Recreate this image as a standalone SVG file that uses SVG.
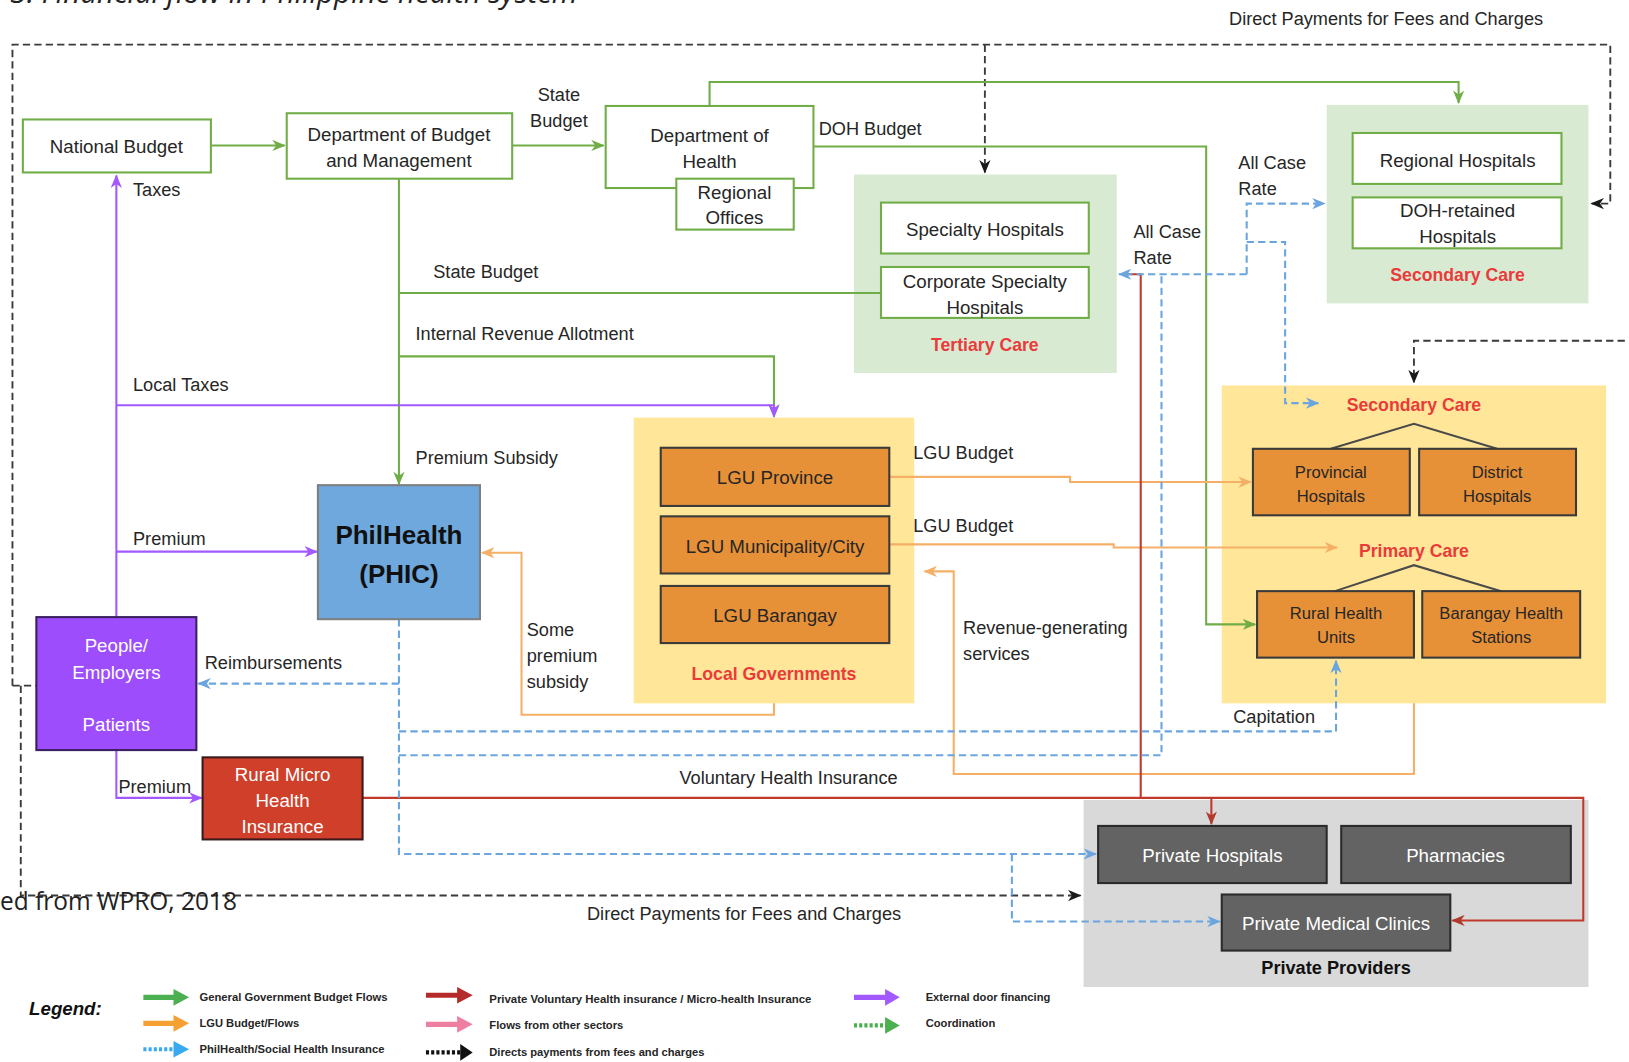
<svg xmlns="http://www.w3.org/2000/svg" width="1629" height="1062" viewBox="0 0 1629 1062">
<style>
text{font-family:"Liberation Sans",Arial,sans-serif;fill:#262626}
.t{font-size:17.5px}
.n{font-size:18px;text-anchor:middle}
.w{fill:#ffffff}
.sm{font-size:16px;text-anchor:middle}
.red{fill:#ea3b3b;font-weight:bold;font-size:17px;text-anchor:middle}
.lg{font-size:10.5px;font-weight:bold}
.gbox{fill:#ffffff;stroke:#70ad47;stroke-width:2}
.obox{fill:#e69138;stroke:#3a3a3a;stroke-width:2}
.dbox{fill:#636363;stroke:#2a2a2a;stroke-width:2}
.g{fill:none;stroke:#70ad47;stroke-width:2}
.p{fill:none;stroke:#a259ff;stroke-width:2}
.o{fill:none;stroke:#f4b066;stroke-width:2}
.b{fill:none;stroke:#6aa5e0;stroke-width:2;stroke-dasharray:7 4}
.r{fill:none;stroke:#c0392b;stroke-width:2}
.k{fill:none;stroke:#3a3a3a;stroke-width:1.8;stroke-dasharray:7 4}
</style>
<defs>
<marker id="ag" viewBox="0 0 12 10" markerWidth="13" markerHeight="11" refX="11" refY="5" orient="auto" markerUnits="userSpaceOnUse"><path d="M0,0 L12,5 L0,10 L3.5,5 z" fill="#70ad47"/></marker>
<marker id="ap" viewBox="0 0 12 10" markerWidth="13" markerHeight="11" refX="11" refY="5" orient="auto" markerUnits="userSpaceOnUse"><path d="M0,0 L12,5 L0,10 L3.5,5 z" fill="#a259ff"/></marker>
<marker id="ao" viewBox="0 0 12 10" markerWidth="13" markerHeight="11" refX="11" refY="5" orient="auto" markerUnits="userSpaceOnUse"><path d="M0,0 L12,5 L0,10 L3.5,5 z" fill="#f4b066"/></marker>
<marker id="ab" viewBox="0 0 12 10" markerWidth="13" markerHeight="11" refX="11" refY="5" orient="auto" markerUnits="userSpaceOnUse"><path d="M0,0 L12,5 L0,10 L3.5,5 z" fill="#6aa5e0"/></marker>
<marker id="ar" viewBox="0 0 12 10" markerWidth="13" markerHeight="11" refX="11" refY="5" orient="auto" markerUnits="userSpaceOnUse"><path d="M0,0 L12,5 L0,10 L3.5,5 z" fill="#b03a2e"/></marker>
<marker id="ak" viewBox="0 0 12 10" markerWidth="13" markerHeight="11" refX="11" refY="5" orient="auto" markerUnits="userSpaceOnUse"><path d="M0,0 L12,5 L0,10 L3.5,5 z" fill="#1a1a1a"/></marker>
</defs>
<rect width="1629" height="1062" fill="#ffffff"/>
<g transform="scale(1.0389)">
<text x="10" y="3" textLength="546" lengthAdjust="spacingAndGlyphs" style="font-family:'Open Sans',sans-serif;font-style:italic;font-size:28px;fill:#222">3. Financial flow in Philippine health system</text>

<!-- containers -->
<g id="tertiary-care">
<rect x="822" y="168" width="253" height="191" fill="#d9ead3"/>
<text class="red" x="948" y="338">Tertiary Care</text>
</g>
<g id="secondary-care-doh">
<rect x="1277" y="101" width="252" height="191" fill="#d9ead3"/>
<text class="red" x="1403" y="270">Secondary Care</text>
</g>
<g id="local-governments">
<rect x="610" y="402" width="270" height="275" fill="#ffe699"/>
<text class="red" x="745" y="655">Local Governments</text>
</g>
<g id="lgu-care">
<rect x="1176" y="371" width="370" height="306" fill="#ffe699"/>
<text class="red" x="1361" y="396">Secondary Care</text>
<text class="red" x="1361" y="536">Primary Care</text>
<polyline points="1281,432 1361,408 1441,432" fill="none" stroke="#4a4a4a" stroke-width="2"/>
<polyline points="1285,569 1361,544 1445,569" fill="none" stroke="#4a4a4a" stroke-width="2"/>
</g>
<g id="private-providers">
<rect x="1043" y="770" width="486" height="180" fill="#d9d9d9"/>
<text x="1286" y="938" style="font-size:17.5px;font-weight:bold;text-anchor:middle;fill:#111">Private Providers</text>
</g>

<!-- connectors -->
<g id="connectors">
<polyline class="k" points="12,660 12,43 1550,43 1550,196 1532,196" marker-end="url(#ak)"/>
<polyline class="k" points="948,43 948,166" marker-end="url(#ak)"/>
<polyline class="k" points="1575,328 1361,328 1361,368" marker-end="url(#ak)"/>
<polyline class="k" points="12,660 35,660"/>
<polyline class="k" points="20,660 20,862 1040,862" marker-end="url(#ak)"/>
<line class="g" x1="203" y1="140" x2="274" y2="140" marker-end="url(#ag)"/>
<line class="g" x1="493" y1="140" x2="581" y2="140" marker-end="url(#ag)"/>
<polyline class="g" points="683,102 683,79 1404,79 1404,99" marker-end="url(#ag)"/>
<polyline class="g" points="783,141 1161,141 1161,601 1208,601" marker-end="url(#ag)"/>
<line class="g" x1="384" y1="172" x2="384" y2="466" marker-end="url(#ag)"/>
<line class="g" x1="384" y1="282" x2="848" y2="282"/>
<polyline class="g" points="384,343 745,343 745,401" marker-end="url(#ag)"/>
<line class="p" x1="112" y1="594" x2="112" y2="169" marker-end="url(#ap)"/>
<polyline class="p" points="112,390 745,390 745,401" marker-end="url(#ap)"/>
<line class="p" x1="112" y1="531" x2="305" y2="531" marker-end="url(#ap)"/>
<polyline class="p" points="112,722 112,768 194,768" marker-end="url(#ap)"/>
<polyline class="o" points="856,459 1030,459 1030,464 1204,464" marker-end="url(#ao)"/>
<polyline class="o" points="856,524 1072,524 1072,527 1287,527" marker-end="url(#ao)"/>
<polyline class="o" points="745,677 745,688 502,688 502,532 464,532" marker-end="url(#ao)"/>
<polyline class="o" points="1361,677 1361,745 918,745 918,550 890,550" marker-end="url(#ao)"/>
<polyline class="r" points="349,768 1524,768 1524,886 1398,886" marker-end="url(#ar)"/>
<line class="r" x1="1166" y1="768" x2="1166" y2="793" marker-end="url(#ar)"/>
<polyline class="r" points="1098,768 1098,264 1085,264"/>
<polyline class="b" points="384,596 384,822 1055,822" marker-end="url(#ab)"/>
<polyline class="b" points="974,822 974,887 1174,887" marker-end="url(#ab)"/>
<polyline class="b" points="384,658 191,658" marker-end="url(#ab)"/>
<polyline class="b" points="384,704 1286,704 1286,636" marker-end="url(#ab)"/>
<polyline class="b" points="384,727 1118,727 1118,264"/>
<polyline class="b" points="1200,264 1077,264" marker-end="url(#ab)"/>
<polyline class="b" points="1200,264 1200,196 1275,196" marker-end="url(#ab)"/>
<polyline class="b" points="1200,233 1237,233 1237,388 1269,388" marker-end="url(#ab)"/>
</g>

<!-- connector labels -->
<g id="labels" class="t">
<text x="1183" y="24" class="t">Direct Payments for Fees and Charges</text>
<text x="538" y="97" class="t" text-anchor="middle">State</text>
<text x="538" y="122" class="t" text-anchor="middle">Budget</text>
<text x="788" y="130" class="t">DOH Budget</text>
<text x="128" y="189" class="t">Taxes</text>
<text x="417" y="268" class="t">State Budget</text>
<text x="400" y="327" class="t">Internal Revenue Allotment</text>
<text x="128" y="376" class="t">Local Taxes</text>
<text x="400" y="447" class="t">Premium Subsidy</text>
<text x="128" y="525" class="t">Premium</text>
<text x="197" y="644" class="t">Reimbursements</text>
<text x="114" y="763" class="t">Premium</text>
<text x="507" y="612" class="t">Some</text>
<text x="507" y="637" class="t">premium</text>
<text x="507" y="662" class="t">subsidy</text>
<text x="879" y="442" class="t">LGU Budget</text>
<text x="879" y="512" class="t">LGU Budget</text>
<text x="927" y="610" class="t">Revenue-generating</text>
<text x="927" y="635" class="t">services</text>
<text x="1187" y="696" class="t">Capitation</text>
<text x="654" y="755" class="t">Voluntary Health Insurance</text>
<text x="565" y="886" class="t">Direct Payments for Fees and Charges</text>
<text x="1091" y="229" class="t">All Case</text>
<text x="1091" y="254" class="t">Rate</text>
<text x="1192" y="163" class="t">All Case</text>
<text x="1192" y="188" class="t">Rate</text>
</g>

<text x="0" y="876" textLength="228" lengthAdjust="spacingAndGlyphs" style="font-family:'Open Sans',sans-serif;font-size:24px;fill:#222">ed from WPRO, 2018</text>

<!-- nodes -->
<g id="national-budget"><rect class="gbox" x="22" y="115" width="181" height="51"/><text class="n" x="112" y="147">National Budget</text></g>
<g id="dbm"><rect class="gbox" x="276" y="109" width="217" height="63"/><text class="n" x="384" y="136">Department of Budget</text><text class="n" x="384" y="161">and Management</text></g>
<g id="doh"><rect class="gbox" x="583" y="102" width="200" height="79"/><text class="n" x="683" y="137">Department of</text><text class="n" x="683" y="162">Health</text></g>
<g id="regional-offices"><rect class="gbox" x="651" y="172" width="113" height="49"/><text class="n" x="707" y="192">Regional</text><text class="n" x="707" y="216">Offices</text></g>
<g id="specialty-hospitals"><rect class="gbox" x="848" y="195" width="200" height="49"/><text class="n" x="948" y="227">Specialty Hospitals</text></g>
<g id="corporate-specialty"><rect class="gbox" x="848" y="257" width="200" height="49"/><text class="n" x="948" y="277">Corporate Specialty</text><text class="n" x="948" y="302">Hospitals</text></g>
<g id="regional-hospitals"><rect class="gbox" x="1302" y="128" width="201" height="49"/><text class="n" x="1403" y="161">Regional Hospitals</text></g>
<g id="doh-retained"><rect class="gbox" x="1302" y="190" width="201" height="49"/><text class="n" x="1403" y="209">DOH-retained</text><text class="n" x="1403" y="234">Hospitals</text></g>
<g id="lgu-province"><rect class="obox" x="636" y="431" width="220" height="56"/><text class="n" x="746" y="466">LGU Province</text></g>
<g id="lgu-municipality"><rect class="obox" x="636" y="497" width="220" height="55"/><text class="n" x="746" y="532">LGU Municipality/City</text></g>
<g id="lgu-barangay"><rect class="obox" x="636" y="564" width="220" height="55"/><text class="n" x="746" y="599">LGU Barangay</text></g>
<g id="provincial-hospitals"><rect class="obox" x="1206" y="432" width="151" height="64"/><text class="sm" x="1281" y="460">Provincial</text><text class="sm" x="1281" y="483">Hospitals</text></g>
<g id="district-hospitals"><rect class="obox" x="1366" y="432" width="151" height="64"/><text class="sm" x="1441" y="460">District</text><text class="sm" x="1441" y="483">Hospitals</text></g>
<g id="rural-health-units"><rect class="obox" x="1210" y="569" width="151" height="64"/><text class="sm" x="1286" y="596">Rural Health</text><text class="sm" x="1286" y="619">Units</text></g>
<g id="barangay-health-stations"><rect class="obox" x="1369" y="569" width="152" height="64"/><text class="sm" x="1445" y="596">Barangay Health</text><text class="sm" x="1445" y="619">Stations</text></g>
<g id="philhealth"><rect x="306" y="467" width="156" height="129" fill="#6fa8dc" stroke="#7f7f7f" stroke-width="2"/><text x="384" y="524" style="font-size:25px;font-weight:bold;text-anchor:middle;fill:#111">PhilHealth</text><text x="384" y="561" style="font-size:25px;font-weight:bold;text-anchor:middle;fill:#111">(PHIC)</text></g>
<g id="people"><rect x="35" y="594" width="154" height="128" fill="#9d4dfc" stroke="#3a2060" stroke-width="2"/><text class="n w" x="112" y="628">People/</text><text class="n w" x="112" y="654">Employers</text><text class="n w" x="112" y="704">Patients</text></g>
<g id="rural-micro"><rect x="195" y="729" width="154" height="79" fill="#cf3f2a" stroke="#3a1a1a" stroke-width="2"/><text class="n w" x="272" y="752">Rural Micro</text><text class="n w" x="272" y="777">Health</text><text class="n w" x="272" y="802">Insurance</text></g>
<g id="private-hospitals"><rect class="dbox" x="1057" y="795" width="220" height="55"/><text class="n w" x="1167" y="830">Private Hospitals</text></g>
<g id="pharmacies"><rect class="dbox" x="1291" y="795" width="221" height="55"/><text class="n w" x="1401" y="830">Pharmacies</text></g>
<g id="private-clinics"><rect class="dbox" x="1176" y="861" width="220" height="54"/><text class="n w" x="1286" y="895">Private Medical Clinics</text></g>

<!-- legend -->
<g id="legend">
<text x="28" y="977" style="font-size:18px;font-weight:bold;font-style:italic;fill:#111">Legend:</text>
<line x1="138" y1="960" x2="170" y2="960" stroke="#4caf50" stroke-width="5"/><path d="M167,952 L182,960 L167,968 z" fill="#4caf50"/>
<text class="lg" x="192" y="964" textLength="181" lengthAdjust="spacingAndGlyphs">General Government Budget Flows</text>
<line x1="138" y1="985" x2="170" y2="985" stroke="#f5a033" stroke-width="5"/><path d="M167,977 L182,985 L167,993 z" fill="#f5a033"/>
<text class="lg" x="192" y="989" textLength="96" lengthAdjust="spacingAndGlyphs">LGU Budget/Flows</text>
<line x1="138" y1="1010" x2="170" y2="1010" stroke="#3aaaf0" stroke-width="4" stroke-dasharray="3 2"/><path d="M167,1002 L182,1010 L167,1018 z" fill="#3aaaf0"/>
<text class="lg" x="192" y="1014" textLength="178" lengthAdjust="spacingAndGlyphs">PhilHealth/Social Health Insurance</text>
<line x1="410" y1="958" x2="442" y2="958" stroke="#b52a2a" stroke-width="5"/><path d="M440,950 L455,958 L440,966 z" fill="#b52a2a"/>
<text class="lg" x="471" y="965" textLength="310" lengthAdjust="spacingAndGlyphs">Private Voluntary Health insurance / Micro-health Insurance</text>
<line x1="410" y1="986" x2="442" y2="986" stroke="#ef7fa0" stroke-width="5"/><path d="M440,978 L455,986 L440,994 z" fill="#ef7fa0"/>
<text class="lg" x="471" y="990" textLength="129" lengthAdjust="spacingAndGlyphs">Flows from other sectors</text>
<line x1="410" y1="1013" x2="444" y2="1013" stroke="#111" stroke-width="4" stroke-dasharray="3 2"/><path d="M443,1005 L455,1013 L443,1021 z" fill="#111"/>
<text class="lg" x="471" y="1016" textLength="207" lengthAdjust="spacingAndGlyphs">Directs payments from fees and charges</text>
<line x1="822" y1="960" x2="854" y2="960" stroke="#a259ff" stroke-width="5"/><path d="M852,952 L866,960 L852,968 z" fill="#a259ff"/>
<text class="lg" x="891" y="964" textLength="120" lengthAdjust="spacingAndGlyphs">External door financing</text>
<line x1="822" y1="987" x2="854" y2="987" stroke="#4caf50" stroke-width="4" stroke-dasharray="3 2"/><path d="M852,979 L866,987 L852,995 z" fill="#4caf50"/>
<text class="lg" x="891" y="989" textLength="67" lengthAdjust="spacingAndGlyphs">Coordination</text>
</g>
</g>
</svg>
